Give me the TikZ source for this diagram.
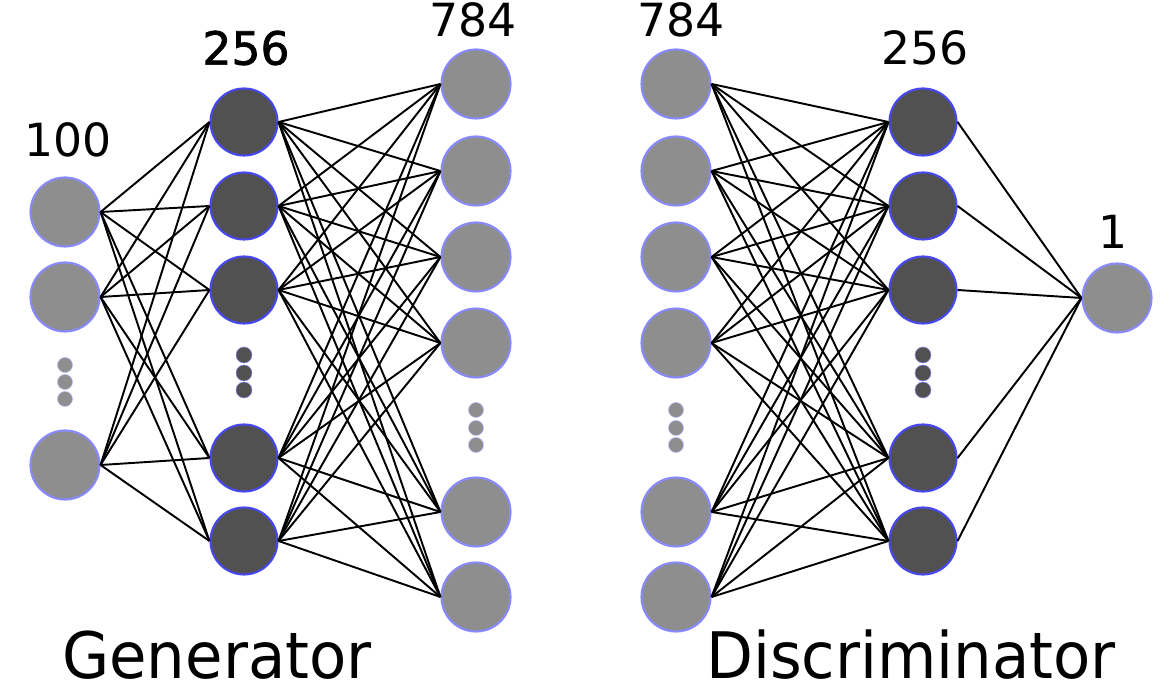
\documentclass[tikz,border=0pt]{standalone}
\usepackage{fontspec}
\setmainfont{DejaVu Sans}
\newfontfamily\halfbold[FakeBold=1.6]{DejaVu Sans}
\usetikzlibrary{positioning}
\usepackage{xcolor}
\definecolor{unitgray}{HTML}{8E8E8E}
\definecolor{unitdark}{HTML}{515151}
\definecolor{rimlight}{HTML}{8888FF}
\definecolor{rimdark}{HTML}{4848F0}

\begin{document}
\begin{tikzpicture}[
    light/.style={circle, fill=unitgray, draw=rimlight, line width=1.2pt, minimum size=1.38cm, inner sep=0pt},
    dark/.style={circle, fill=unitdark, draw=rimdark, line width=1.2pt, minimum size=1.34cm, inner sep=0pt},
    lightdot/.style={circle, fill=unitgray, draw=rimlight!60, line width=0.3pt, minimum size=0.3cm, inner sep=0pt},
    darkdot/.style={circle, fill=unitdark, draw=rimdark!60, line width=0.3pt, minimum size=0.32cm, inner sep=0pt},
    wire/.style={black, line width=1.1pt},
    count/.style={font=\fontsize{26}{30}\selectfont},
    title/.style={font=\fontsize{36.5}{40}\selectfont, xscale=0.95}
]
    \useasboundingbox (0,0) rectangle (23.52,14);

    % Generator: input layer
    \node[light] (in1) at (1.3,9.76) {};
    \node[light] (in2) at (1.3,8.06) {};
    \node[light] (in3) at (1.3,4.7) {};
    \node[lightdot] (ind1) at (1.3,6.7) {};
    \node[lightdot] (ind2) at (1.3,6.36) {};
    \node[lightdot] (ind3) at (1.3,6.02) {};

    % Generator: hidden layer
    \node[dark] (gh1) at (4.88,11.56) {};
    \node[dark] (gh2) at (4.88,9.88) {};
    \node[dark] (gh3) at (4.88,8.2) {};
    \node[dark] (gh4) at (4.88,4.84) {};
    \node[dark] (gh5) at (4.88,3.18) {};
    \node[darkdot] (ghd1) at (4.88,6.9) {};
    \node[darkdot] (ghd2) at (4.88,6.54) {};
    \node[darkdot] (ghd3) at (4.88,6.2) {};

    % Generator: output layer
    \node[light] (go1) at (9.52,12.32) {};
    \node[light] (go2) at (9.52,10.58) {};
    \node[light] (go3) at (9.52,8.86) {};
    \node[light] (go4) at (9.52,7.14) {};
    \node[light] (go5) at (9.52,3.76) {};
    \node[light] (go6) at (9.52,2.06) {};
    \node[lightdot] (god1) at (9.52,5.8) {};
    \node[lightdot] (god2) at (9.52,5.44) {};
    \node[lightdot] (god3) at (9.52,5.1) {};

    % Discriminator: input layer
    \node[light] (dx1) at (13.52,12.32) {};
    \node[light] (dx2) at (13.52,10.58) {};
    \node[light] (dx3) at (13.52,8.86) {};
    \node[light] (dx4) at (13.52,7.14) {};
    \node[light] (dx5) at (13.52,3.76) {};
    \node[light] (dx6) at (13.52,2.06) {};
    \node[lightdot] (dxd1) at (13.52,5.8) {};
    \node[lightdot] (dxd2) at (13.52,5.44) {};
    \node[lightdot] (dxd3) at (13.52,5.1) {};

    % Discriminator: hidden layer
    \node[dark] (dh1) at (18.46,11.56) {};
    \node[dark] (dh2) at (18.46,9.88) {};
    \node[dark] (dh3) at (18.46,8.2) {};
    \node[dark] (dh4) at (18.46,4.84) {};
    \node[dark] (dh5) at (18.46,3.18) {};
    \node[darkdot] (dhd1) at (18.46,6.9) {};
    \node[darkdot] (dhd2) at (18.46,6.54) {};
    \node[darkdot] (dhd3) at (18.46,6.2) {};

    % Discriminator: output
    \node[light] (out) at (22.34,8.04) {};

    % Connections
    \foreach \a in {in1,in2,in3}
        \foreach \b in {gh1,gh2,gh3,gh4,gh5}
            \draw[wire] (\a.east) -- (\b.west);
    \foreach \a in {gh1,gh2,gh3,gh4,gh5}
        \foreach \b in {go1,go2,go3,go4,go5,go6}
            \draw[wire] (\a.east) -- (\b.west);
    \foreach \a in {dx1,dx2,dx3,dx4,dx5,dx6}
        \foreach \b in {dh1,dh2,dh3,dh4,dh5}
            \draw[wire] (\a.east) -- (\b.west);
    \foreach \a in {dh1,dh2,dh3,dh4,dh5}
        \draw[wire] (\a.east) -- (out.west);

    % Layer sizes
    \node[count] (n100) at (1.36,11.2) {100};
    \node[count] (n256g) at (4.92,13.04) {\halfbold 256};
    \node[count] (n784g) at (9.46,13.6) {784};
    \node[count] (n784d) at (13.62,13.6) {784};
    \node[count] (n256d) at (18.5,13.04) {256};
    \node[count] (n1) at (22.26,9.36) {1};

    % Titles
    \node[title] (gen) at (4.34,0.9) {Generator};
    \node[title] (disc) at (18.22,0.9) {Discriminator};
\end{tikzpicture}
\end{document}
